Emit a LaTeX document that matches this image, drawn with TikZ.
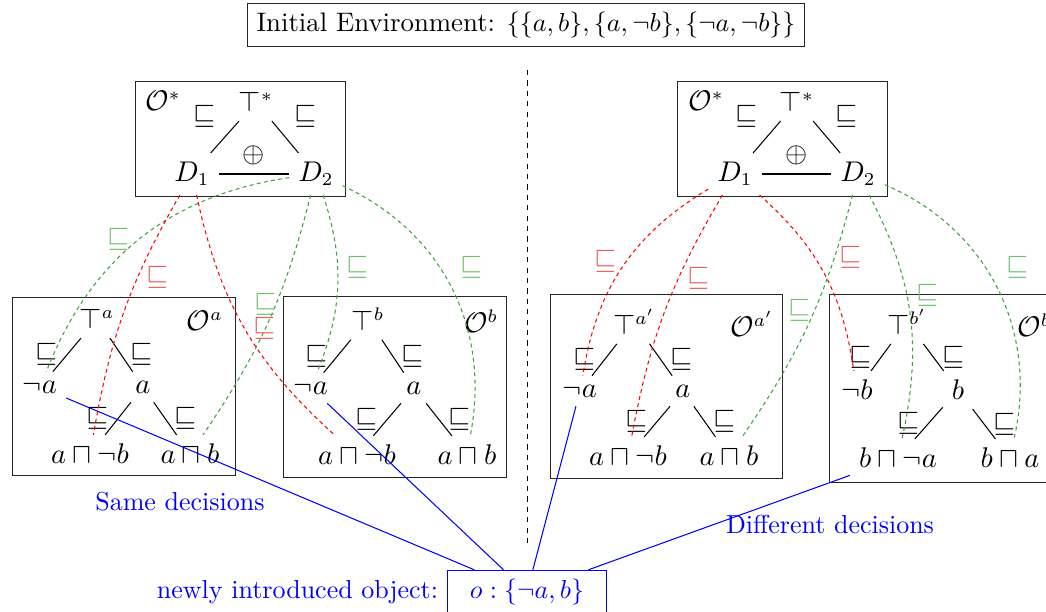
\documentclass[tikz,border=0pt]{standalone}
\usepackage{amsmath}
\usepackage{amsfonts}
\usepackage{tikz}
\usetikzlibrary{positioning}

\definecolor{dgreen}{RGB}{60,160,60}
\definecolor{lgreen}{RGB}{110,190,110}
\definecolor{lred}{RGB}{230,90,90}

\begin{document}
\begin{tikzpicture}[x=0.3846pt, y=-0.3846pt,
    font=\fontsize{10.6}{12.5}\selectfont,
    boxline/.style={draw=black!85, line width=0.35pt},
    gdash/.style={dgreen, dash pattern=on 1.5pt off 1.3pt},
    rdash/.style={red, dash pattern=on 1.5pt off 1.3pt},
    glab/.style={text=lgreen},
    rlab/.style={text=lred},
    bline/.style={blue},
    btext/.style={text=blue, font=\normalsize}]
    % 画布范围
    \useasboundingbox (0,0) rectangle (1046,612);
    \clip (0,0) rectangle (1046,612);

    % 标题
    \node[boxline, font=\fontsize{10.3}{12}\selectfont] (env) at (526,25) {Initial Environment: $\{\{a,b\},\{a,\neg b\},\{\neg a,\neg b\}\}$};

    % 中间分隔虚线
    \coordinate (sepT) at (527,70);
    \coordinate (sepB) at (527,544);
    \draw[line width=0.35pt, dash pattern=on 2pt off 2pt] (sepT) -- (sepB);

    % 左侧 O*
    \draw[boxline] (135,81) rectangle (345,196);
    \node (Os1) at (163,101) {$\mathcal{O}^*$};
    \node (T1) at (256,102) {$\top^*$};
    \node (D11) at (192,174) {$D_1$};
    \node (D21) at (316,174) {$D_2$};
    \draw (T1) -- (D11) node[midway, above left] {$\sqsubseteq$};
    \draw (T1) -- (D21) node[midway, above right] {$\sqsubseteq$};
    \draw (D11) -- (D21) node[midway, above] {$\oplus$};

    % 右侧 O*
    \draw[boxline] (677,81) rectangle (887,196);
    \node (Os2) at (706,101) {$\mathcal{O}^*$};
    \node (T2) at (797,102) {$\top^*$};
    \node (D12) at (735,174) {$D_1$};
    \node (D22) at (858,174) {$D_2$};
    \draw (T2) -- (D12) node[midway, above left] {$\sqsubseteq$};
    \draw (T2) -- (D22) node[midway, above right] {$\sqsubseteq$};
    \draw (D12) -- (D22) node[midway, above] {$\oplus$};

    % O^a
    \draw[boxline] (12,297) rectangle (235,475);
    \node (OA) at (205,321) {$\mathcal{O}^a$};
    \node (TA) at (97,319) {$\top^a$};
    \node (nA) at (40,387) {$\neg a$};
    \node (pA) at (143,387) {$a$};
    \node (nbA) at (90,454) {$a \sqcap \neg b$};
    \node (pbA) at (190,454) {$a \sqcap b$};
    \draw (TA) -- (nA) node[midway, left] {$\sqsubseteq$};
    \draw (TA) -- (pA) node[midway, right] {$\sqsubseteq$};
    \draw (pA) -- (nbA) node[midway, left] {$\sqsubseteq$};
    \draw (pA) -- (pbA) node[midway, right] {$\sqsubseteq$};

    % O^b
    \draw[boxline] (283,296) rectangle (506,477);
    \node (OB) at (481,321) {$\mathcal{O}^b$};
    \node (TB) at (368,319) {$\top^b$};
    \node (nB) at (311,388) {$\neg a$};
    \node (pB) at (414,388) {$a$};
    \node (nbB) at (357,455) {$a \sqcap \neg b$};
    \node (pbB) at (467,455) {$a \sqcap b$};
    \draw (TB) -- (nB) node[midway, left] {$\sqsubseteq$};
    \draw (TB) -- (pB) node[midway, right] {$\sqsubseteq$};
    \draw (pB) -- (nbB) node[midway, left] {$\sqsubseteq$};
    \draw (pB) -- (pbB) node[midway, right] {$\sqsubseteq$};

    % O^{a'}
    \draw[boxline] (550,294) rectangle (782,478);
    \node (OC) at (752,324) {$\mathcal{O}^{a'}$};
    \node (TC) at (634,322) {$\top^{a'}$};
    \node (nC) at (580,391) {$\neg a$};
    \node (pC) at (683,391) {$a$};
    \node (nbC) at (628,456) {$a \sqcap \neg b$};
    \node (pbC) at (729,456) {$a \sqcap b$};
    \draw (TC) -- (nC) node[midway, left] {$\sqsubseteq$};
    \draw (TC) -- (pC) node[midway, right] {$\sqsubseteq$};
    \draw (pC) -- (nbC) node[midway, left] {$\sqsubseteq$};
    \draw (pC) -- (pbC) node[midway, right] {$\sqsubseteq$};

    % O^{b'}
    \draw[boxline] (829,294) rectangle (1070,482);
    \node (OD) at (1038,324) {$\mathcal{O}^{b'}$};
    \node (TD) at (907,322) {$\top^{b'}$};
    \node (nD) at (857,390) {$\neg b$};
    \node (pD) at (958,390) {$b$};
    \node (nbD) at (898,458) {$b \sqcap \neg a$};
    \node (pbD) at (1010,458) {$b \sqcap a$};
    \draw (TD) -- (nD) node[midway, left] {$\sqsubseteq$};
    \draw (TD) -- (pD) node[midway, right] {$\sqsubseteq$};
    \draw (pD) -- (nbD) node[midway, left] {$\sqsubseteq$};
    \draw (pD) -- (pbD) node[midway, right] {$\sqsubseteq$};

    % 左侧映射（相同决定）
    \draw[gdash] (D21) to[bend right=30] node[midway, left, glab] {$\sqsubseteq$} (nA);
    \draw[rdash] (D11) to[bend right=10] node[pos=0.35, right, rlab] {$\sqsubseteq$} (nbA);
    \draw[rdash] (D11) to[bend right=18] node[pos=0.5, right, rlab] {$\sqsubseteq$} (nbB);
    \draw[gdash] (D21) to[bend left=10] node[pos=0.43, left=-4pt, glab] {$\sqsubseteq$} (pbA);
    \draw[gdash] (D21) to[bend left=20] node[pos=0.4, right, glab] {$\sqsubseteq$} (nB);
    \draw[gdash] (D21) to[bend left=38] node[pos=0.5, above right, glab] {$\sqsubseteq$} (pbB);

    % 右侧映射（不同决定）
    \draw[rdash] (D12) to[bend right=25] node[pos=0.47, left, rlab] {$\sqsubseteq$} (nC);
    \draw[rdash] (D12) to[bend right=10] node[pos=0.35, right, rlab] {$\sqsubseteq$} (nbC);
    \draw[rdash] (D12) to[bend left=20] node[pos=0.4, right=6pt, rlab] {$\sqsubseteq$} (nD);
    \draw[gdash] (D22) to[bend left=10] node[pos=0.45, left=-2pt, glab] {$\sqsubseteq$} (pbC);
    \draw[gdash] (D22) to[bend left=20] node[pos=0.42, right, glab] {$\sqsubseteq$} (nbD);
    \draw[gdash] (D22) to[bend left=40] node[pos=0.5, above right, glab] {$\sqsubseteq$} (pbD);

    % 新对象
    \node[draw=blue, btext, minimum width=61pt, minimum height=15.5pt] (obj) at (527,592) {$o:\{\neg a,b\}$};
    \node[left=0pt of obj, btext] (objtxt) {newly introduced object:};
    \node[btext] (same) at (180,502) {Same decisions};
    \node[btext] (diff) at (830,524) {Different decisions};
    \draw[bline] (nA) -- (obj);
    \draw[bline] (nB) -- (obj);
    \draw[bline] (nC) -- (obj);
    \draw[bline] (nbD) -- (obj);
\end{tikzpicture}
\end{document}
